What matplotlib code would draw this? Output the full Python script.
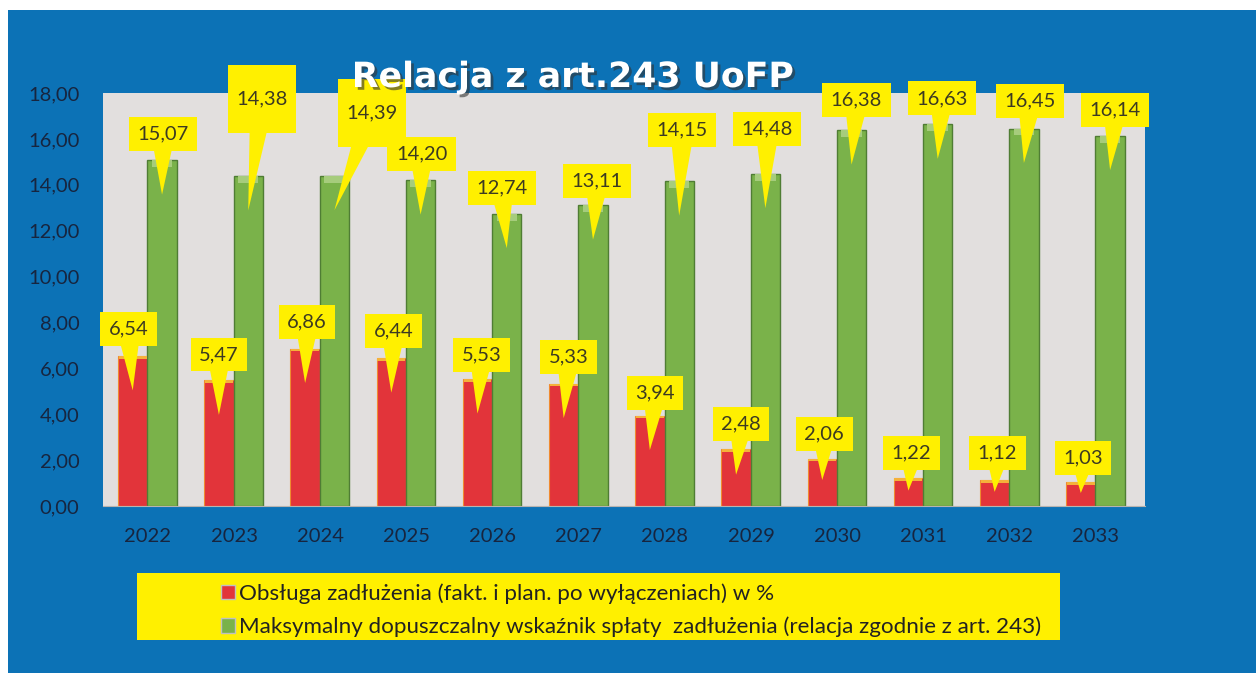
import matplotlib
matplotlib.use("Agg")
import matplotlib.pyplot as plt
import matplotlib.transforms as mtransforms
import matplotlib.patheffects as pe
from matplotlib.patches import Rectangle, Patch
import numpy as np

# data
years = ["2022", "2023", "2024", "2025", "2026", "2027",
         "2028", "2029", "2030", "2031", "2032", "2033"]
obsluga = [6.54, 5.47, 6.86, 6.44, 5.53, 5.33, 3.94, 2.48, 2.06, 1.22, 1.12, 1.03]
maks = [15.07, 14.38, 14.39, 14.20, 12.74, 13.11, 14.15, 14.48, 16.38, 16.63, 16.45, 16.14]
legend_labels = [
    "Obsługa zadłużenia (fakt. i plan. po wyłączeniach) w %",
    "Maksymalny dopuszczalny wskaźnik spłaty  zadłużenia (relacja zgodnie z art. 243)",
]
title = "Relacja z art.243 UoFP"

# callout box offsets (pixels, from bar top)
red_off = [(-4, 27), (0, 26), (2, 27), (2, 27), (4, 24), (5, 27),
           (5, 23), (5, 25), (2, 25), (3, 25), (3, 27), (2, 24)]
green_off = [(1, 26), (14, 77), (38, 63), (1, 26), (-5, 26), (4, 24),
             (3, 51), (2, 45), (5, 30), (4, 26), (6, 28), (5, 26)]
tall_boxes = {1, 2}

BLUE = "#0c72b6"
PLOT_BG = "#e2dfde"
YELLOW = "#fff000"
RED = "#e2343a"
GREEN = "#7ab24a"
NAVY = "#17253f"
LABEL_TXT = "#3c3a22"

plt.rcParams["font.family"] = ["Lato", "DejaVu Sans"]

fig = plt.figure(figsize=(12.56, 6.73), dpi=100)
fig.patch.set_facecolor("white")
fig.patches.append(Rectangle((8 / 1256, 0), 1, 1 - 10 / 673, transform=fig.transFigure,
                             facecolor=BLUE, edgecolor="none", zorder=-2))

ax = fig.add_axes([103 / 1256, 1 - 506 / 673, (1145 - 103) / 1256, (506 - 93) / 673])
ax.set_zorder(2)
ax.set_facecolor(PLOT_BG)

x = np.arange(len(years))
w = 0.34
xr = x - 0.175
xg = x + 0.165

ax.bar(xr, obsluga, w, color=RED, edgecolor="#f08a30", linewidth=0.8, zorder=2)
ax.bar(xg, maks, w, color=GREEN, edgecolor="#4f7d34", linewidth=1.0, zorder=2)
# lighter caps on bar tops
ax.bar(xg, [0.3] * len(maks), w * 0.7, bottom=[v - 0.3 for v in maks],
       color="#a6cc7c", edgecolor="none", zorder=3)
ax.bar(xr, [0.12] * len(obsluga), w * 0.95, bottom=[v - 0.12 for v in obsluga],
       color="#f5b13a", edgecolor="none", zorder=3)

ax.set_xlim(-0.52, 11.57)
ax.set_ylim(0, 18)
ax.set_yticks(np.arange(0, 19, 2))
ax.set_yticklabels([f"{v:.2f}".replace(".", ",") for v in np.arange(0, 19, 2)])
ax.set_xticks(x)
ax.set_xticklabels(years)
ax.tick_params(axis="both", length=0, labelsize=14.5, colors=NAVY)
ax.tick_params(axis="y", pad=17)
ax.tick_params(axis="x", pad=16)
for s in ["top", "right", "left"]:
    ax.spines[s].set_visible(False)
ax.spines["bottom"].set_color("#b8b4b0")


def callout(xpos, val, off, tall=False):
    dip = min(1.5, 0.45 * val)
    tr = mtransforms.offset_copy(ax.transData, fig=fig, x=off[0], y=off[1], units="dots")
    txt = f"{val:.2f}".replace(".", ",")
    if tall:
        txt = "\n" + txt + "\n"
    ax.annotate(txt, xy=(xpos, val - dip), xytext=(xpos, val), textcoords=tr,
                ha="center", va="center", fontsize=14.5, color=LABEL_TXT,
                linespacing=1.0,
                bbox=dict(boxstyle="square,pad=0.42", fc=YELLOW, ec="none"),
                arrowprops=dict(arrowstyle="wedge,tail_width=1.2,shrink_factor=0.5",
                                fc=YELLOW, ec="none", patchA=None,
                                shrinkA=0, shrinkB=0, relpos=(0.5, 0.5)),
                annotation_clip=False, zorder=5)


for i in range(len(years)):
    callout(xr[i], obsluga[i], red_off[i])
    callout(xg[i], maks[i], green_off[i], tall=i in tall_boxes)

fig.text(573 / 1256, 1 - 77 / 673, title, ha="center", va="center",
         fontsize=25, fontweight="bold", color="white", family="DejaVu Sans",
         path_effects=[pe.withSimplePatchShadow(offset=(2, -2), shadow_rgbFace="#333333",
                                                alpha=0.6)], zorder=10)

# legend on yellow panel
fig.patches.append(Rectangle((137 / 1256, 1 - 640 / 673), (1060 - 137) / 1256, 67 / 673,
                             transform=fig.transFigure, facecolor=YELLOW,
                             edgecolor="none", zorder=1))
handles = [Patch(facecolor=RED, edgecolor="#c0c0c0"), Patch(facecolor=GREEN, edgecolor="#c0c0c0")]
fig.legend(handles, legend_labels, loc="upper left",
           bbox_to_anchor=(210 / 1256, 1 - 572 / 673), frameon=False,
           fontsize=16.1, handlelength=0.6, handleheight=0.6, handletextpad=0.2,
           labelspacing=0.58, labelcolor="#222222", borderpad=0)

fig.savefig("out.png", dpi=100, facecolor=fig.get_facecolor())
